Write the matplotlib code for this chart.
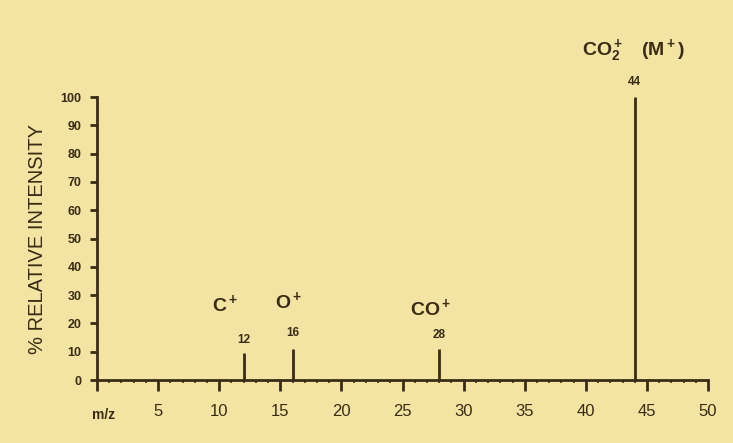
import matplotlib.pyplot as plt
from matplotlib.ticker import MultipleLocator

# данные спектра CO2
mz = [12, 16, 28, 44]
intensity = [9.5, 11, 11, 100]
mass_labels = ['12', '16', '28', '44']
ion_names = ['$C^+$', '$O^+$', '$CO^+$', '$CO_2^+$   $(M^+)$']
x_ticks = [0, 5, 10, 15, 20, 25, 30, 35, 40, 45, 50]
x_tick_labels = ['', '5', '10', '15', '20', '25', '30', '35', '40', '45', '50']
y_ticks = [0, 10, 20, 30, 40, 50, 60, 70, 80, 90, 100]

bg = '#f4e4a4'
ink = '#3a2c14'

plt.rcParams['font.family'] = ['Liberation Sans', 'DejaVu Sans']
plt.rcParams['mathtext.fontset'] = 'custom'
plt.rcParams['mathtext.rm'] = 'Liberation Sans:bold'
plt.rcParams['mathtext.it'] = 'Liberation Sans:bold'
plt.rcParams['mathtext.bf'] = 'Liberation Sans:bold'
plt.rcParams['mathtext.default'] = 'bf'

fig = plt.figure(figsize=(7.33, 4.43), dpi=100, facecolor=bg)
ax = fig.add_axes([0.1323, 0.1422, 0.8337, 0.6388])
ax.set_facecolor(bg)

# пики
ax.vlines(mz, 0, intensity, color=ink, linewidth=2)

# подписи масс и ионов
label_y = [14.3, 16.6, 15.9, 105.3]
ion_pos = [(10.5, 26.8), (15.7, 28.0), (27.3, 25.6), (43.9, 116.5)]
for x, lab, ly in zip(mz, mass_labels, label_y):
    ax.text(x, ly, lab, ha='center', va='center', fontsize=8.5,
            fontweight='bold', color=ink)
for (px, py), name in zip(ion_pos, ion_names):
    ax.text(px, py, name, ha='center', va='center', fontsize=14,
            color=ink, clip_on=False)

# оси
ax.set_xlim(0, 50)
ax.set_ylim(0, 100)
for s in ['top', 'right']:
    ax.spines[s].set_visible(False)
for s in ['left', 'bottom']:
    ax.spines[s].set_color(ink)
    ax.spines[s].set_linewidth(2)

ax.set_xticks(x_ticks)
ax.set_xticklabels(x_tick_labels)
ax.xaxis.set_minor_locator(MultipleLocator(1))
ax.tick_params(axis='x', which='major', direction='out', length=8, width=2,
               color=ink, labelcolor=ink, labelsize=12, pad=9)
ax.tick_params(axis='x', which='minor', direction='out', length=2.5, width=1.2,
               color=ink)
ax.set_yticks(y_ticks)
ax.tick_params(axis='y', direction='out', length=5, width=2, color=ink,
               labelcolor=ink, labelsize=9, pad=6)
for t in ax.get_yticklabels():
    t.set_fontweight('bold')

ax.text(0.5, -12.5, 'm/z', ha='center', va='center', fontsize=10,
        fontweight='bold', color=ink, clip_on=False)
ax.set_ylabel('% RELATIVE INTENSITY', fontsize=14.5, color=ink, labelpad=10)

fig.savefig('out.png', dpi=100, facecolor=bg)
